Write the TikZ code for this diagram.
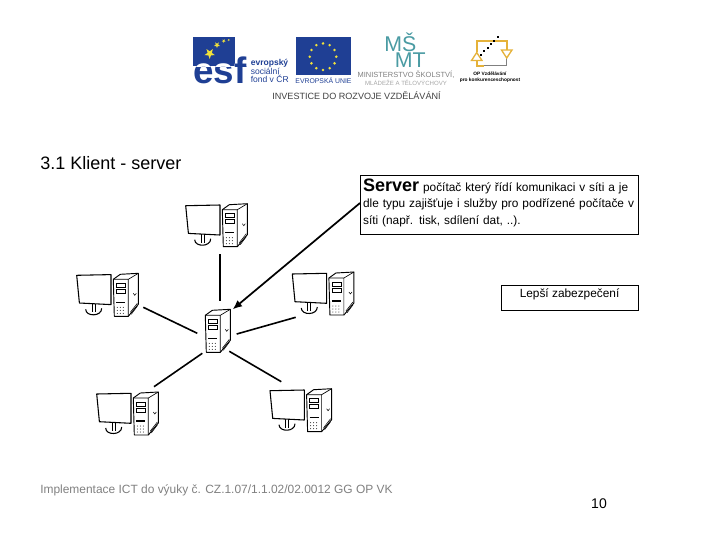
\documentclass[tikz,border=0pt]{standalone}
\usepackage{fontspec}
\setmainfont{Liberation Sans}
\usetikzlibrary{arrows.meta, positioning, calc}
\definecolor{esfblue}{HTML}{1F3F94}
\definecolor{eustar}{HTML}{F2E23A}
\definecolor{msmtteal}{HTML}{4A9BA3}
\definecolor{opgold}{HTML}{E5B23A}
\definecolor{footgray}{HTML}{808080}
\tikzset{
  x=0.75pt, y=-0.75pt,
  infobox/.style  = {draw=black, line width=0.6pt, align=left, anchor=north west,
                     inner xsep=2pt, inner ysep=0pt, text width=204.5pt},
  notebox/.style  = {draw=black, line width=0.6pt, align=center, anchor=north west,
                     inner sep=0pt, minimum width=103pt, text height=8.75pt, text depth=10pt},
  wire/.style     = {draw=black, line width=1.2pt},
  pointer/.style  = {draw=black, line width=1.3pt, -{Latex[length=7pt, width=6pt]}},
  plain/.style    = {inner sep=0pt, anchor=base west},
  tower/.pic = {
    \draw[line width=0.7pt, fill=white, line join=round]
      (0,4) -- (7,-1) -- (25,-2) -- (25,29) -- (15,41) -- (1,41) -- cycle;
    \draw[line width=0.5pt] (0,4) -- (15,4) -- (25,-2) (15,4) -- (15,41);
    \draw[line width=0.5pt] (3,8) rectangle (12,12) (3,14) rectangle (12,18);
    \draw[line width=0.9pt] (3,27) -- (12,27);
    \foreach \dx in {4,7,10}
      \foreach \dy in {32,35,38}
        \fill (\dx,\dy) circle (0.5);
    \draw[line width=0.4pt] (17,37) -- (24,28) (18,39) -- (24,31) (20,18) -- (21.5,20) -- (23,18);
  },
  desktop/.pic = {
    \draw[line width=0.8pt, fill=white, line join=round]
      (0,0) -- (34.3,-0.7) -- (34.3,29.3) -- (2.7,27.7) -- cycle;
    \draw[line width=0.8pt] (9,34) .. controls (9,41.5) and (25,41.5) .. (25,33);
    \draw[line width=0.8pt] (15.5,28.5) -- (15.5,37) (18.5,28.5) -- (18.5,37);
    \pic at (36.6,0) {tower};
  },
}
\begin{document}
\begin{tikzpicture}
  \useasboundingbox (0,0) rectangle (720,540);
  % logos
  \fill[esfblue] (193,37) rectangle (235,66);
  \begin{scope}
    \clip (190,66) rectangle (250,90);
    \node[plain, font=\bfseries\fontsize{27.6}{28}\selectfont, text=esfblue] (esflow) at (193,83) {esf};
  \end{scope}
  \begin{scope}
    \clip (190,30) rectangle (235,66);
    \node[plain, font=\bfseries\fontsize{27.6}{28}\selectfont, text=white] (esfup) at (193,83) {esf};
  \end{scope}
  \begin{scope}
    \clip (235,30) rectangle (250,66);
    \node[plain, font=\bfseries\fontsize{27.6}{28}\selectfont, text=esfblue] (esftop) at (193,83) {esf};
  \end{scope}
  \foreach \sx/\sy/\sr in {209.7/53.5/5.5, 217/45/3.2, 223.7/41/2, 228.7/40/1.2}
    \fill[eustar] (\sx,\sy) +(90:\sr) -- +(126:0.4*\sr) -- +(162:\sr) -- +(198:0.4*\sr) -- +(234:\sr)
      -- +(270:0.4*\sr) -- +(306:\sr) -- +(342:0.4*\sr) -- +(18:\sr) -- +(54:0.4*\sr) -- cycle;
  \node[inner sep=0pt, anchor=west, font=\fontsize{6.4}{6.5}\selectfont, text=esfblue, align=left] (esftext) at (250.5,71)
    {\textbf{evropský}\\sociální\\fond v ČR};
  \fill[esfblue] (295.7,37.3) rectangle (351.3,75);
  \foreach \a in {0,30,...,330}
    \fill[eustar] ($(323,56.7)+(\a:13.3)$) circle (1.4);
  \node[inner sep=0pt, font=\fontsize{5.15}{6}\selectfont, text=esfblue] (eutext) at (323.5,80.5) {EVROPSKÁ UNIE};
  \node[inner sep=0pt, anchor=north west, font=\fontsize{16}{11.5}\selectfont, text=msmtteal, align=left] (msmt) at (384,33)
    {MŠ\\\hspace{8pt}MT};
  \node[inner sep=0pt, font=\fontsize{5.6}{4.6}\selectfont, text=gray, align=center] (msmttext) at (406,78)
    {MINISTERSTVO ŠKOLSTVÍ,\\{\fontsize{4.56}{4.6}\selectfont\color{gray!70}MLÁDEŽE A TĚLOVÝCHOVY}};
  \draw[opgold, line width=1.8pt] (476.7,52) -- (476.7,40.7) -- (506.7,40.7) -- (506.7,50);
  \draw[opgold, line width=1.2pt] (476.7,60) -- (476.7,65.7) -- (484,65.7);
  \draw[gray, line width=0.4pt] (484,65.7) -- (506.7,65.7) -- (506.7,58);
  \draw[opgold, line width=1pt, fill=white] (471.5,60.5) -- (476.7,52.5) -- (482,60.5) -- cycle;
  \draw[opgold, line width=1pt, fill=white] (501.5,50) -- (506.7,58) -- (512,50) -- cycle;
  \foreach \t in {0,1,...,5}
    \fill ($(481,55)!\t/5!(497.7,37.3)$) +(-1,-1) rectangle +(1,1);
  \node[inner sep=0pt, font=\bfseries\fontsize{3.6}{4.6}\selectfont, align=center] (optext) at (490,77) {OP Vzdělávání\\pro konkurenceschopnost};
  \node[inner sep=0pt, font=\fontsize{6.8}{7}\selectfont, text=black!75] (invest) at (356.5,96) {INVESTICE DO ROZVOJE VZDĚLÁVÁNÍ};
  % title
  \node[plain, font=\fontsize{13.5}{14}\selectfont] (heading) at (40,169.5) {3.1 Klient - server};
  % computers
  \pic (pctop) at (185.7,205.7) {desktop};
  \pic (pcleft) at (76.7,275.3) {desktop};
  \pic (pcright) at (292.3,274) {desktop};
  \pic (pcbl) at (96.7,394) {desktop};
  \pic (pcbr) at (270,390.7) {desktop};
  \pic (srv) at (205.3,311.3) {tower};
  % free ends of the wires
  \coordinate (hub) at (219.7,300.7);
  \coordinate (ctop) at (219.7,254);
  \coordinate (hubl) at (197.3,333.3);
  \coordinate (cleft) at (143.3,307.3);
  \coordinate (hubr) at (236.7,334);
  \coordinate (cright) at (295.7,317.3);
  \coordinate (hubbl) at (202.3,353.3);
  \coordinate (cbl) at (154,386.7);
  \coordinate (hubbr) at (229.3,351.3);
  \coordinate (cbr) at (281.3,381.7);
  \coordinate (srvtip) at (232.7,309.3);
  \draw[wire] (ctop) -- (hub);
  \draw[wire] (cleft) -- (hubl);
  \draw[wire] (cright) -- (hubr);
  \draw[wire] (cbl) -- (hubbl);
  \draw[wire] (cbr) -- (hubbr);
  % text boxes
  \node[infobox, font=\fontsize{8.9}{12.4}\selectfont] (info) at (360,174.5)
    {\rule{0pt}{12.4pt}{\bfseries\fontsize{13.5}{12.4}\selectfont Server} počítač který řídí komunikaci v síti a je\\
     dle typu zajišťuje i služby pro podřízené počítače v\\
     síti (např. tisk, sdílení dat, ..).\rule[-7.45pt]{0pt}{7.45pt}};
  \node[notebox, font=\fontsize{8.9}{10}\selectfont] (note) at (500.5,285) {Lepší zabezpečení};
  \draw[pointer] (info.west |- 0,203) -- (srvtip);
  % footer
  \node[plain, font=\fontsize{8.96}{10}\selectfont, text=footgray] (footer) at (40,493) {Implementace ICT do výuky č. CZ.1.07/1.1.02/02.0012 GG OP VK};
  \node[inner sep=0pt, font=\fontsize{10.5}{12}\selectfont] (pageno) at (599,504) {10};
\end{tikzpicture}
\end{document}
